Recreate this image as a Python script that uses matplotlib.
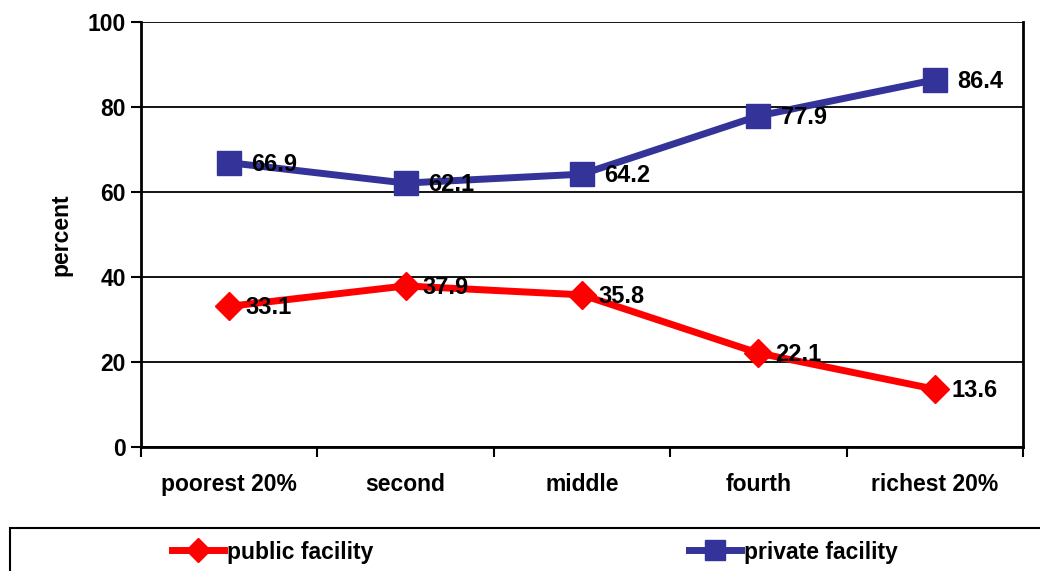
import matplotlib.pyplot as plt
from matplotlib.lines import Line2D
from matplotlib.patches import Rectangle

plt.rcParams['font.family'] = ['Liberation Sans', 'DejaVu Sans']
plt.rcParams['font.weight'] = 'bold'

# --- data ---
categories = ["poorest 20%", "second", "middle", "fourth", "richest 20%"]
public_vals = [33.1, 37.9, 35.8, 22.1, 13.6]
private_vals = [66.9, 62.1, 64.2, 77.9, 86.4]

RED = "#FF0000"
BLUE = "#333399"
FS = 16.5

fig = plt.figure(figsize=(10.4, 5.71), dpi=100)
ax = fig.add_axes([141 / 1040, 1 - 447 / 571, 882 / 1040, 425 / 571])

x = list(range(len(categories)))
ax.plot(x, public_vals, color=RED, lw=5, marker='D', ms=14, zorder=3)
ax.plot(x, private_vals, color=BLUE, lw=5, marker='s', ms=17, zorder=3)

for xi, v in zip(x, public_vals):
    ax.annotate(f"{v:.1f}", (xi, v), xytext=(12, -1), textcoords='offset points',
                va='center', ha='left', fontsize=17, fontweight='bold', zorder=4)
for xi, v in zip(x, private_vals):
    ax.annotate(f"{v:.1f}", (xi, v), xytext=(16, -1), textcoords='offset points',
                va='center', ha='left', fontsize=17, fontweight='bold', zorder=4)

ax.set_xlim(-0.5, len(categories) - 0.5)
ax.set_ylim(0, 100)
ax.set_yticks([0, 20, 40, 60, 80, 100])
ax.set_xticks(x)
ax.set_xticklabels(categories)
ax.set_xticks([i - 0.5 for i in range(len(categories) + 1)], minor=True)
ax.tick_params(axis='x', which='major', length=0, pad=19, labelsize=FS)
ax.tick_params(axis='x', which='minor', length=7, width=1.5, direction='out')
ax.tick_params(axis='y', length=7, width=1.5, direction='out', labelsize=FS, pad=4)
ax.set_ylabel("percent", fontsize=FS, fontweight='bold', labelpad=11)

ax.yaxis.grid(True, color='black', lw=1.3)
ax.set_axisbelow(True)
for side in ['left', 'bottom', 'right']:
    ax.spines[side].set_linewidth(2)
ax.spines['top'].set_visible(False)

# legend box along the bottom
fig.patches.append(Rectangle((10 / 1040, -0.1), 1.1, (571 - 528) / 571 + 0.1,
                             transform=fig.transFigure, fill=False,
                             edgecolor='black', lw=1.5))
h_pub = Line2D([], [], color=RED, lw=5, marker='D', ms=12)
h_priv = Line2D([], [], color=BLUE, lw=5, marker='s', ms=14)
fig.legend([h_pub], ["public facility"], loc='center left',
           bbox_to_anchor=(151 / 1040, 1 - 552 / 571), frameon=False,
           handlelength=2.3, handletextpad=0.1, fontsize=FS)
fig.legend([h_priv], ["private facility"], loc='center left',
           bbox_to_anchor=(668 / 1040, 1 - 552 / 571), frameon=False,
           handlelength=2.3, handletextpad=0.1, fontsize=FS)

fig.savefig("out.png", dpi=100)
